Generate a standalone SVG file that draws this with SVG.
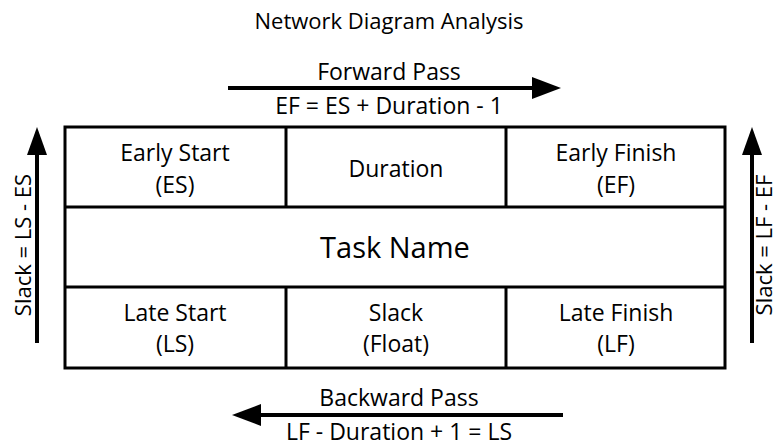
<svg xmlns="http://www.w3.org/2000/svg" width="779" height="447" viewBox="0 0 779 447">
<style>
text{font-family:"Open Sans","Noto Sans","Liberation Sans",sans-serif;fill:#000;text-anchor:middle}
.t{font-size:23px}
.h{font-size:22px}
.big{font-size:29px}
.grid{stroke:#000;stroke-width:3;fill:none}
.arr{stroke:#000;stroke-width:4;fill:none}
</style>
<rect width="779" height="447" fill="#fff"/>
<text x="389" y="29" class="h">Network Diagram Analysis</text>
<g id="table">
<rect class="grid" x="65" y="127" width="660" height="241"/>
<line class="grid" x1="65" y1="207" x2="725" y2="207"/>
<line class="grid" x1="65" y1="287" x2="725" y2="287"/>
<line class="grid" x1="286" y1="127" x2="286" y2="207"/>
<line class="grid" x1="506" y1="127" x2="506" y2="207"/>
<line class="grid" x1="286" y1="287" x2="286" y2="368"/>
<line class="grid" x1="506" y1="287" x2="506" y2="368"/>
</g>
<g id="es"><text x="175" y="161" class="t">Early Start</text><text x="175" y="193" class="t">(ES)</text></g>
<g id="dur"><text x="396" y="177" class="t">Duration</text></g>
<g id="ef"><text x="616" y="161" class="t">Early Finish</text><text x="616" y="193" class="t">(EF)</text></g>
<g id="task"><text x="395" y="258" class="big">Task Name</text></g>
<g id="ls"><text x="175" y="321" class="t">Late Start</text><text x="175" y="352" class="t">(LS)</text></g>
<g id="slack"><text x="396" y="321" class="t">Slack</text><text x="396" y="352" class="t">(Float)</text></g>
<g id="lf"><text x="616" y="321" class="t">Late Finish</text><text x="616" y="352" class="t">(LF)</text></g>
<g id="connectors">
<line class="arr" x1="228" y1="88" x2="534" y2="88"/>
<polygon points="532,77 561,88 532,99"/>
<line class="arr" x1="258" y1="415" x2="563" y2="415"/>
<polygon points="261,404 232,415 261,426"/>
<line class="arr" x1="37" y1="343" x2="37" y2="152"/>
<polygon points="27,155 37,127 47,155"/>
<line class="arr" x1="752" y1="343" x2="752" y2="152"/>
<polygon points="742,155 752,127 762,155"/>
</g>
<g id="labels">
<text x="389" y="80" class="t">Forward Pass</text>
<text x="389" y="114" class="t">EF = ES + Duration - 1</text>
<text x="399" y="406" class="t">Backward Pass</text>
<text x="399" y="440" class="t">LF - Duration + 1 = LS</text>
<text x="0" y="0" class="h" transform="translate(31,245) rotate(-90)">Slack = LS - ES</text>
<text x="0" y="0" class="h" transform="translate(772,245) rotate(-90)">Slack = LF - EF</text>
</g>
</svg>
